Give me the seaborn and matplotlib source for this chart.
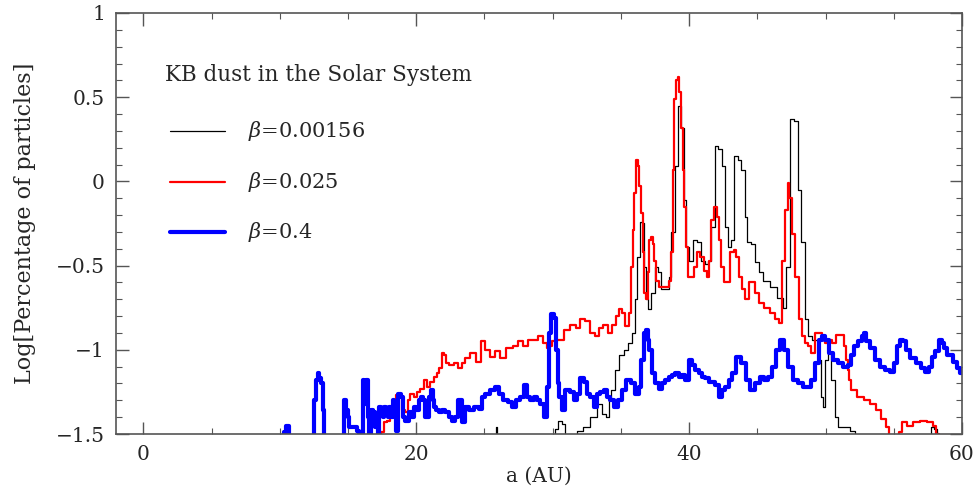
import numpy as np
import pandas as pd
import matplotlib
matplotlib.use("Agg")
import matplotlib.pyplot as plt
from matplotlib.lines import Line2D
from matplotlib.ticker import MultipleLocator
import seaborn as sns

# ---------------- data ----------------
black_x = [24.0, 25.8, 25.9, 26.0, 30.0, 30.3, 30.55, 30.8, 31.06, 31.6, 32.0, 32.5, 33.0, 33.5, 33.8,
           34.0, 34.2, 34.4, 34.7, 35.0, 35.4, 35.7, 35.9, 36.1, 36.3, 36.45, 36.6, 36.75, 36.9, 37.1,
           37.35, 37.6, 37.85, 38.1, 38.4, 38.6, 38.8, 39.1, 39.3, 39.5, 39.7, 39.9, 40.1, 40.4, 40.8,
           41.0, 41.3, 41.5, 41.75, 42.0, 42.25, 42.5, 42.75, 43.0, 43.2, 43.45, 43.7, 43.95, 44.2,
           44.35, 44.7, 45.0, 45.2, 45.7, 46.2, 46.7, 47.0, 47.25, 47.5, 47.85, 48.1, 48.35, 48.6,
           48.9, 49.1, 49.4, 49.6, 49.75, 49.85, 50.1, 50.3, 50.55, 50.8, 51.0, 51.6, 52.0, 52.3,
           52.5, 57.6, 57.8, 58.1, 58.25, 60.0]
black_y = [-1.6, -1.6, -1.46, -1.6, -1.6, -1.47, -1.42, -1.44, -1.6, -1.6, -1.48, -1.46, -1.40, -1.32, -1.38,
           -1.40, -1.30, -1.24, -1.12, -1.03, -1.00, -0.96, -0.90, -0.70, -0.45, -0.24, -0.25, -0.51, -0.70, -0.76,
           -0.66, -0.51, -0.54, -0.64, -0.64, -0.57, -0.30, 0.09, 0.45, 0.32, -0.11, -0.39, -0.47, -0.35, -0.36,
           -0.47, -0.49, -0.47, -0.27, 0.21, 0.19, 0.09, -0.27, -0.39, -0.35, 0.15, 0.13, 0.07, -0.21,
           -0.36, -0.37, -0.48, -0.54, -0.59, -0.63, -0.69, -0.75, -0.51, 0.37, 0.36, -0.05, -0.36, -0.82,
           -0.92, -0.94, -0.94, -1.06, -1.28, -1.34, -1.06, -1.02, -1.18, -1.40, -1.46, -1.46, -1.48, -1.52,
           -1.6, -1.6, -1.46, -1.47, -1.6, -1.6]

red_x = [17.3, 17.49, 17.73, 17.95, 18.22, 18.46, 18.59, 18.83, 19.05, 19.32, 19.41, 19.68, 19.93, 20.15,
         20.42, 20.66, 20.88, 21.15, 21.39, 21.61, 21.76, 21.98, 22.12, 22.25, 22.62, 22.98, 23.22, 23.44,
         23.74, 24.18, 24.54, 24.91, 25.2, 25.64, 25.93, 26.3, 26.89, 27.25, 27.62, 27.99, 28.35, 28.72,
         29.08, 29.45, 29.67, 29.82, 30.04, 30.55, 31.06, 31.5, 31.87, 32.16, 32.53, 32.89, 33.26, 33.48,
         33.85, 34.21, 34.43, 34.8, 34.95, 35.16, 35.46, 35.68, 35.82, 35.9, 36.04, 36.19, 36.26, 36.41,
         36.56, 36.63, 36.78, 36.92, 37.0, 37.14, 37.29, 37.36, 37.51, 37.66, 37.88, 38.1, 38.39, 38.61,
         38.75, 38.83, 38.97, 39.12, 39.19, 39.34, 39.49, 39.56, 39.71, 39.85, 39.93, 40.22, 40.44, 40.66,
         40.95, 41.17, 41.39, 41.54, 41.68, 41.9, 42.12, 42.27, 42.42, 42.64, 42.86, 43.15, 43.37, 43.52,
         43.74, 43.96, 44.25, 44.47, 44.69, 44.98, 45.2, 45.71, 46.15, 46.45, 46.67, 46.89, 47.18, 47.25,
         47.4, 47.62, 47.91, 48.13, 48.35, 48.64, 48.86, 49.08, 49.38, 49.6, 49.82, 50.11, 50.33, 50.55,
         50.92, 51.21, 51.43, 51.58, 51.65, 51.79, 52.01, 52.53, 53.04, 53.48, 53.85, 54.21, 54.58, 54.73,
         54.9, 55.3, 55.46, 55.68, 56.19, 56.7, 57.14, 57.66, 58.02, 58.24, 58.4, 60.0]
red_y = [-1.6, -1.49, -1.43, -1.42, -1.37, -1.32, -1.27, -1.28, -1.36, -1.37, -1.30, -1.26, -1.28, -1.25,
         -1.23, -1.18, -1.22, -1.19, -1.16, -1.14, -1.11, -1.02, -1.03, -1.08, -1.09, -1.08, -1.11, -1.08,
         -1.05, -1.02, -1.07, -0.95, -1.00, -1.04, -1.01, -1.05, -0.99, -0.98, -0.95, -0.98, -0.94, -0.94,
         -0.92, -0.96, -0.99, -0.98, -0.95, -0.94, -0.88, -0.85, -0.87, -0.82, -0.83, -0.90, -0.92, -0.87,
         -0.85, -0.90, -0.85, -0.80, -0.76, -0.78, -0.86, -0.78, -0.51, -0.29, -0.07, 0.13, 0.09, -0.03,
         -0.19, -0.42, -0.66, -0.70, -0.54, -0.35, -0.33, -0.37, -0.47, -0.59, -0.63, -0.63, -0.63, -0.59,
         -0.42, 0.07, 0.49, 0.60, 0.62, 0.53, 0.32, 0.07, -0.15, -0.39, -0.57, -0.57, -0.51, -0.42,
         -0.45, -0.53, -0.57, -0.47, -0.23, -0.15, -0.21, -0.35, -0.51, -0.60, -0.60, -0.42, -0.41, -0.45,
         -0.57, -0.64, -0.70, -0.60, -0.60, -0.66, -0.72, -0.75, -0.78, -0.82, -0.84, -0.47, -0.17, -0.01,
         -0.10, -0.31, -0.57, -0.82, -0.92, -0.96, -0.98, -1.02, -0.90, -0.90, -0.94, -0.96, -0.94, -0.96,
         -0.91, -0.91, -0.98, -1.06, -1.12, -1.18, -1.24, -1.28, -1.30, -1.32, -1.36, -1.41, -1.46, -1.52,
         -1.6, -1.6, -1.49, -1.43, -1.45, -1.43, -1.42, -1.43, -1.45, -1.50, -1.6, -1.6]

blue_x = [10.2, 10.4, 10.53, 10.62, 10.77, 12.45, 12.6, 12.73, 12.82, 12.97, 13.09, 13.19, 13.33, 14.65,
          14.8, 14.92, 15.02, 15.16, 15.53, 15.75, 15.9, 16.02, 16.14, 16.26, 16.39, 16.51, 16.63, 16.75,
          16.87, 17.12, 17.24, 17.36, 17.49, 17.6, 17.73, 17.85, 17.97, 18.1, 18.22, 18.34, 18.46, 18.59,
          18.7, 18.83, 18.95, 19.07, 19.32, 19.56, 19.8, 19.93, 20.05, 20.29, 20.42, 20.53, 20.78, 21.03,
          21.15, 21.27, 21.39, 21.52, 21.76, 22.0, 22.25, 22.49, 22.73, 22.98, 23.22, 23.44, 23.74, 23.96,
          24.47, 24.69, 24.91, 25.2, 25.57, 25.93, 26.15, 26.52, 26.89, 27.11, 27.47, 27.77, 27.99, 28.21,
          28.5, 28.72, 28.94, 29.23, 29.45, 29.67, 29.82, 29.96, 30.18, 30.33, 30.4, 30.55, 30.77, 31.06,
          31.43, 31.65, 31.87, 32.16, 32.38, 32.6, 32.89, 33.11, 33.33, 33.63, 33.85, 34.07, 34.36, 34.58,
          34.95, 35.16, 35.53, 35.9, 36.19, 36.41, 36.56, 36.78, 36.92, 37.0, 37.14, 37.36, 37.66, 37.88,
          38.1, 38.39, 38.61, 38.83, 39.12, 39.34, 39.56, 39.85, 40.07, 40.29, 40.59, 40.81, 41.03, 41.32,
          41.54, 41.76, 42.05, 42.27, 42.49, 42.78, 43.0, 43.22, 43.59, 43.96, 44.32, 44.62, 44.98, 45.35,
          45.57, 45.93, 46.15, 46.52, 46.81, 47.03, 47.4, 47.77, 48.13, 48.5, 48.86, 49.08, 49.38, 49.6,
          49.82, 50.11, 50.33, 50.7, 51.06, 51.43, 51.79, 51.94, 52.16, 52.53, 52.75, 52.89, 53.11, 53.41,
          53.77, 54.14, 54.51, 54.87, 55.09, 55.31, 55.6, 55.82, 56.04, 56.41, 56.78, 57.14, 57.44, 57.66,
          57.88, 58.17, 58.39, 58.61, 58.75, 59.12, 59.49, 59.71, 60.0]
blue_y = [-1.6, -1.49, -1.45, -1.45, -1.6, -1.6, -1.30, -1.18, -1.14, -1.17, -1.20, -1.36, -1.6, -1.6,
          -1.30, -1.36, -1.40, -1.46, -1.46, -1.48, -1.6, -1.6, -1.18, -1.32, -1.18, -1.40, -1.6, -1.36,
          -1.37, -1.46, -1.6, -1.34, -1.37, -1.40, -1.34, -1.36, -1.40, -1.34, -1.40, -1.30, -1.36, -1.48,
          -1.26, -1.26, -1.28, -1.40, -1.42, -1.37, -1.40, -1.34, -1.36, -1.30, -1.28, -1.30, -1.40, -1.28,
          -1.24, -1.30, -1.34, -1.36, -1.37, -1.36, -1.37, -1.40, -1.42, -1.40, -1.30, -1.43, -1.34, -1.36,
          -1.34, -1.35, -1.28, -1.26, -1.24, -1.22, -1.26, -1.30, -1.31, -1.34, -1.30, -1.28, -1.21, -1.28,
          -1.30, -1.28, -1.30, -1.32, -1.40, -1.22, -0.90, -0.79, -0.81, -1.00, -1.20, -1.28, -1.36, -1.24,
          -1.25, -1.30, -1.26, -1.17, -1.19, -1.26, -1.28, -1.34, -1.26, -1.25, -1.24, -1.28, -1.30, -1.34,
          -1.30, -1.24, -1.18, -1.20, -1.26, -1.22, -1.06, -0.90, -0.88, -0.94, -1.00, -1.14, -1.20, -1.23,
          -1.20, -1.18, -1.16, -1.15, -1.14, -1.16, -1.15, -1.18, -1.06, -1.09, -1.12, -1.14, -1.16, -1.17,
          -1.19, -1.19, -1.21, -1.28, -1.24, -1.22, -1.18, -1.14, -1.04, -1.08, -1.18, -1.24, -1.20, -1.16,
          -1.18, -1.16, -1.10, -1.00, -0.94, -1.00, -1.10, -1.18, -1.20, -1.22, -1.22, -1.18, -1.08, -0.94,
          -0.92, -0.94, -1.02, -1.06, -1.08, -1.10, -1.09, -1.03, -0.98, -0.95, -0.92, -0.90, -0.95, -0.99,
          -1.06, -1.10, -1.12, -1.13, -1.08, -0.98, -0.94, -0.95, -1.00, -1.05, -1.08, -1.11, -1.13, -1.10,
          -1.04, -1.01, -0.94, -0.96, -0.99, -1.03, -1.07, -1.11, -1.14]

labels = [r"$\beta$=0.00156", r"$\beta$=0.025", r"$\beta$=0.4"]
title_text = "KB dust in the Solar System"
xticks = [0, 20, 40, 60]
yticks = [-1.5, -1, -0.5, 0, 0.5, 1]

# ---------------- style ----------------
sns.set_style("ticks")
plt.rcParams["font.family"] = ["DejaVu Serif"]
plt.rcParams["mathtext.fontset"] = "dejavuserif"

fig = plt.figure(figsize=(9.77, 4.94), dpi=100)
ax = fig.add_axes([116 / 977, 1 - 434 / 494, (962 - 116) / 977, (434 - 13) / 494])

series = [
    (black_x, black_y, "black", 0.9),
    (red_x, red_y, "#ff0000", 1.6),
    (blue_x, blue_y, "#0000ff", 3.0),
]
for (xs, ys, col, lw), lab in zip(series, labels):
    df = pd.DataFrame({"a": xs, "logp": ys})
    sns.lineplot(data=df, x="a", y="logp", ax=ax, color=col, linewidth=lw,
                 estimator=None, sort=False, drawstyle="steps-mid", legend=False)

ax.set_xlim(-2, 60)
ax.set_ylim(-1.5, 1)
ax.set_xticks(xticks)
ax.set_yticks(yticks)
ax.set_yticklabels(["\u22121.5", "\u22121", "\u22120.5", "0", "0.5", "1"])
ax.xaxis.set_minor_locator(MultipleLocator(5))
ax.yaxis.set_minor_locator(MultipleLocator(0.1))
ax.tick_params(which="both", direction="in", top=True, right=True, color="#555555")
ax.tick_params(which="major", length=9, width=1.0, labelsize=14.5, pad=8)
ax.tick_params(which="minor", length=4.5, width=0.8)
for s in ax.spines.values():
    s.set_color("#555555")
    s.set_linewidth(1.2)

ax.set_xlabel("a (AU)", fontsize=14.5, labelpad=2)
ax.set_ylabel("Log[Percentage of particles]", fontsize=16, labelpad=14)

# legend drawn by hand, matching original layout
ax.text(0.058, 0.853, title_text, transform=ax.transAxes, fontsize=15.5,
        va="center", ha="left")
leg_y = [0.720, 0.599, 0.480]
for (xs, ys, col, lw), lab, yy in zip(series, labels, leg_y):
    ax.add_line(Line2D([0.064, 0.129], [yy, yy], transform=ax.transAxes,
                       color=col, linewidth=lw))
    ax.text(0.156, yy, lab, transform=ax.transAxes, fontsize=15,
            va="center", ha="left")

fig.savefig("out.png", dpi=100)
